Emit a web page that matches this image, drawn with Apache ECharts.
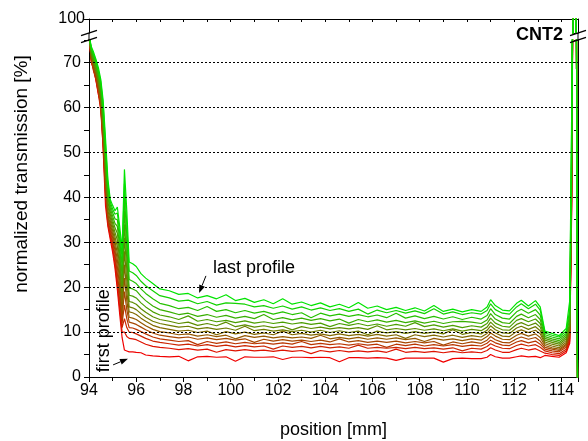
<!DOCTYPE html>
<html><head><meta charset="utf-8">
<script src="https://cdn.jsdelivr.net/npm/echarts@6/dist/echarts.min.js"></script>
<style>html,body{margin:0;padding:0;background:#fff}#c{width:588px;height:441px}</style>
</head><body><div id="c"></div>
<script>
// ---- data ----
const positionMm = [94.0, 94.1, 94.2, 94.3, 94.4, 94.5, 94.6, 94.7, 94.8, 94.9, 95.0, 95.1, 95.2, 95.3, 95.4, 95.5, 95.6, 95.7, 95.85, 96.0, 96.2, 96.4, 96.7,
  97.0, 97.4, 97.8, 98.2, 98.6, 99.0, 99.4, 99.8, 100.2, 100.6, 101.0, 101.4, 101.8, 102.2, 102.6, 103.0, 103.4, 103.8, 104.2, 104.6, 105.0, 105.4, 105.8, 106.2, 106.6, 107.0, 107.4, 107.8, 108.2, 108.6, 109.0, 109.4, 109.8, 110.2, 110.6,
  110.85, 111.0, 111.2, 111.5, 111.8, 112.1, 112.3, 112.6, 112.9, 113.1,
  113.3, 113.6, 113.9, 114.2, 114.35, 114.43, 114.5, 114.62, 114.68];

const profile01 = [76, 70.0, 68.5, 65.8, 62.8, 61.0, 50.5, 38, 33.5, 30.6, 27.8, 24.2, 19.5, 14, 8.8, 6.0, 5.8, 5.6, 5.6, 5.5, 5.4, 4.9, 4.7,
  4.6, 4.5, 4.6, 3.6, 4.5, 4.6, 4.4, 4.5, 3.5, 4.5, 4.4, 4.4, 4.5, 3.9, 4.4, 4.4, 4.3, 4.4, 4.3, 3.4, 4.3, 4.3, 4.2, 4.3, 4.2, 3.7, 4.2, 4.2, 4.2, 4.2, 3.3, 4.1, 4.2, 4.1, 4.1,
  4.4, 5.0, 4.5, 4.2, 4.2, 4.5, 4.7, 4.5, 4.6, 4.3,
  4.8, 4.6, 4.4, 5.4, 7.5, 36, 102, 102, -2];
const profile02 = [76, 70.2, 68.7, 66.0, 63.0, 59.2, 51.2, 40, 34, 31.3, 28.6, 25.2, 20.5, 15.5, 10, 10, 9, 8.6, 8.5, 8.3, 7.8, 7.3, 6.8,
  6.6, 6.4, 6.1, 6.3, 6.0, 6.2, 5.5, 6.1, 5.8, 6.1, 5.8, 6.0, 5.7, 6.0, 5.7, 5.9, 5.2, 5.9, 5.6, 5.9, 5.6, 5.8, 5.6, 5.8, 5.5, 6.2, 5.5, 5.7, 5.5, 5.7, 5.4, 5.7, 5.4, 5.6, 5.4,
  5.9, 6.5, 6.0, 5.5, 5.5, 6.1, 6.4, 6.0, 6.3, 5.8,
  5.3, 5.0, 4.8, 5.8, 8, 38, 102, 102, -2];
const profile03 = [76, 70.3, 67.9, 66.2, 63.3, 59.7, 52, 41, 34.5, 32.0, 29.4, 26.2, 21.5, 17, 11, 13, 11, 10.0, 9.9, 9.6, 9.1, 8.6, 8.0,
  7.7, 7.4, 7.1, 7.3, 6.9, 7.2, 6.8, 7.1, 6.7, 7.0, 6.7, 6.9, 6.2, 6.9, 6.6, 6.8, 6.5, 6.8, 6.5, 6.7, 6.4, 7.1, 6.4, 6.6, 6.4, 6.6, 6.3, 6.6, 6.3, 6.5, 6.2, 6.5, 5.8, 6.4, 6.2,
  6.8, 7.4, 6.9, 6.4, 6.3, 7.0, 7.3, 6.9, 7.2, 6.6,
  5.8, 5.4, 5.2, 6.2, 8.5, 39, 102, 102, -2];
const profile04 = [76, 70.5, 68.2, 66.6, 63.7, 60.2, 52.8, 42, 35, 32.7, 30.2, 27.2, 23, 18.5, 12, 16, 13, 11.0, 10.9, 10.6, 10.1, 9.6, 8.9,
  8.5, 8.2, 7.9, 8.1, 7.2, 7.9, 7.5, 7.8, 7.4, 7.7, 7.4, 7.6, 7.3, 7.6, 7.3, 7.9, 7.2, 7.5, 7.2, 7.4, 7.1, 7.4, 7.1, 7.3, 6.6, 7.3, 7.0, 7.3, 6.9, 7.2, 6.9, 7.2, 6.8, 7.1, 6.9,
  7.5, 8.2, 7.6, 7.1, 7.0, 7.8, 8.1, 7.6, 8.0, 7.3,
  6.2, 5.8, 5.6, 6.6, 9, 40, 102, 102, -2];
const profile05 = [76, 70.8, 68.6, 67.0, 64.2, 60.8, 53.6, 43, 35.5, 33.4, 31.0, 28.2, 24.5, 20, 13, 19, 15, 12.2, 12.0, 11.7, 11.1, 10.5, 9.8,
  9.3, 9.0, 8.7, 8.9, 8.4, 8.7, 8.3, 8.6, 8.2, 8.5, 7.7, 8.4, 8.0, 8.3, 8.0, 8.2, 7.9, 8.2, 7.8, 8.5, 7.8, 8.1, 7.7, 8.0, 7.7, 8.0, 7.6, 7.9, 7.6, 7.9, 7.1, 7.8, 7.4, 7.8, 7.5,
  8.2, 9.0, 8.3, 7.7, 7.6, 8.5, 8.9, 8.4, 8.8, 8.0,
  6.6, 6.2, 5.9, 7.0, 9.5, 41, 102, 102, -2];
const profile06 = [76, 71.1, 69.0, 67.4, 64.7, 61.4, 54.4, 44, 36, 34.1, 31.8, 29.2, 26, 21.5, 14.5, 22, 17, 13.3, 13.1, 12.8, 12.1, 11.4, 10.6,
  10.1, 9.8, 9.4, 9.6, 9.1, 9.4, 9.0, 9.3, 8.5, 9.2, 8.8, 9.1, 8.7, 9.0, 8.7, 8.9, 8.6, 9.3, 8.5, 8.8, 8.5, 8.8, 8.4, 8.7, 8.4, 8.7, 8.3, 8.6, 7.9, 8.6, 8.2, 8.5, 8.1, 8.5, 8.2,
  9.0, 9.8, 9.1, 8.4, 8.3, 9.3, 9.7, 9.1, 9.6, 8.8,
  7.0, 6.5, 6.2, 7.3, 10, 42, 102, 102, -2];
const profile07 = [76, 71.4, 69.4, 67.8, 65.2, 62.0, 55.2, 45, 37, 34.8, 32.6, 30.2, 27.5, 23, 16, 25, 19, 14.5, 14.3, 13.9, 13.1, 12.4, 11.5,
  11.0, 10.6, 10.2, 10.4, 9.9, 10.2, 9.4, 10.1, 9.6, 10.0, 9.5, 9.8, 9.4, 10.2, 9.4, 9.7, 9.3, 9.6, 9.2, 9.6, 9.2, 9.5, 9.1, 9.5, 9.1, 9.4, 8.6, 9.4, 9.0, 9.3, 8.9, 9.3, 8.8, 9.2, 8.9,
  9.7, 10.6, 9.8, 9.1, 9.0, 10.1, 10.5, 9.9, 10.4, 9.6,
  7.4, 6.9, 6.5, 7.7, 10.5, 43, 102, 102, -2];
const profile08 = [76, 71.7, 69.8, 68.2, 65.7, 62.6, 56.0, 46, 38, 35.5, 33.4, 31.2, 29, 24.5, 17.5, 28, 21.5, 15.6, 15.4, 15.0, 14.1, 13.3, 12.4,
  11.9, 11.5, 11.1, 11.3, 10.7, 11.0, 10.6, 10.9, 10.4, 11.3, 10.3, 10.6, 10.2, 10.5, 10.1, 10.4, 10.0, 10.4, 9.9, 10.3, 9.9, 10.2, 9.4, 10.2, 9.8, 10.1, 9.7, 10.1, 9.7, 10.0, 9.6, 10.5, 9.5, 9.9, 9.6,
  10.4, 11.4, 10.5, 9.8, 9.7, 10.9, 11.3, 10.6, 11.2, 10.3,
  7.8, 7.3, 6.9, 8.1, 11, 44, 102, 102, -2];
const profile09 = [76, 72.0, 70.2, 68.6, 66.2, 63.2, 56.8, 47, 39, 36.2, 34.2, 32.2, 30.5, 26, 19, 31, 24, 16.8, 16.6, 16.2, 15.2, 14.4, 13.4,
  12.8, 12.4, 11.9, 12.2, 11.5, 11.9, 11.4, 12.2, 11.2, 11.6, 11.1, 11.4, 11.0, 11.3, 10.5, 11.2, 10.8, 11.1, 10.7, 11.0, 10.7, 11.0, 10.6, 11.4, 10.5, 10.8, 10.5, 10.8, 10.4, 10.7, 10.3, 10.7, 10.2, 10.6, 10.3,
  11.1, 12.2, 11.2, 10.5, 10.4, 11.7, 12.1, 11.4, 12.0, 11.1,
  8.2, 7.7, 7.3, 8.5, 11.5, 46, 102, 102, -2];
const profile10 = [76, 72.3, 70.6, 69.0, 66.7, 63.8, 57.7, 48, 40, 36.9, 35.0, 33.2, 32.0, 27.5, 20.5, 34, 26.5, 18.2, 18.0, 17.6, 16.5, 15.6, 14.5,
  13.8, 13.4, 12.8, 13.6, 12.4, 12.8, 12.3, 12.6, 12.1, 12.5, 12.0, 12.3, 11.9, 12.2, 11.8, 12.1, 11.7, 12.0, 11.2, 11.9, 11.5, 11.9, 11.4, 11.8, 11.3, 11.7, 11.3, 12.1, 11.2, 11.6, 11.1, 11.5, 11.0, 11.4, 11.1,
  11.9, 13.1, 12.0, 11.3, 11.1, 12.6, 13.0, 12.3, 12.9, 11.9,
  8.6, 8.1, 7.7, 8.9, 12, 48, 102, 102, -2];
const profile11 = [76, 72.6, 71.0, 69.4, 67.2, 64.4, 58.6, 49, 41, 37.6, 35.8, 34.2, 33.5, 29, 22.5, 37, 29, 19.8, 19.6, 19.2, 18.0, 17.0, 15.8,
  15.0, 14.5, 13.9, 14.2, 13.5, 13.9, 13.3, 13.7, 13.1, 13.5, 13.0, 13.9, 12.8, 13.2, 12.7, 13.1, 12.6, 13.0, 12.5, 12.9, 12.0, 12.8, 12.3, 12.7, 12.2, 12.6, 12.1, 12.5, 12.0, 12.4, 11.9, 12.3, 12.4, 12.2, 11.9,
  12.7, 14.1, 12.9, 12.1, 11.9, 13.5, 14.0, 13.2, 13.9, 12.8,
  9.0, 8.5, 8.1, 9.3, 13, 50, 102, 102, -2];
const profile12 = [76, 72.9, 71.4, 69.8, 67.7, 65.0, 59.5, 50, 42, 38.3, 36.6, 35.2, 35.0, 30.5, 24.5, 40, 31.5, 21.7, 21.3, 20.8, 19.6, 18.6, 17.4,
  16.4, 15.9, 15.2, 15.5, 14.8, 15.7, 14.6, 15.0, 14.3, 14.8, 14.2, 14.6, 14.0, 14.5, 13.9, 14.3, 13.2, 14.2, 13.6, 14.0, 13.5, 13.9, 13.4, 13.8, 13.2, 14.2, 13.1, 13.6, 13.0, 13.5, 12.9, 13.4, 12.8, 13.3, 12.9,
  13.7, 15.2, 13.9, 13.1, 12.9, 14.5, 15.1, 14.2, 15.0, 13.8,
  9.4, 8.9, 8.5, 9.7, 14, 52, 102, 102, -2];
const profile13 = [76, 73.2, 71.8, 70.2, 68.2, 65.6, 60.5, 51.5, 43, 39, 37.4, 36.2, 36.5, 32, 26.5, 43, 34, 23.6, 23.2, 22.6, 21.3, 20.3, 19.2,
  18.1, 17.6, 16.9, 17.1, 16.3, 16.8, 16.0, 16.5, 16.4, 16.2, 15.6, 15.9, 15.3, 15.8, 15.1, 15.6, 14.9, 15.4, 14.8, 15.2, 14.6, 15.1, 14.0, 14.9, 14.3, 14.8, 14.2, 14.7, 14.1, 15.2, 14.0, 14.5, 13.9, 14.3, 14.0,
  14.8, 16.3, 15.0, 14.2, 14.0, 15.6, 16.3, 15.2, 16.2, 14.9,
  9.8, 9.3, 8.9, 10.2, 15, 55, 102, 102, -2];
const profile14 = [76, 73.5, 72.2, 70.6, 68.8, 66.2, 61.5, 53, 44, 39.5, 38.2, 37.0, 37.8, 33.5, 28.5, 46.2, 37, 25.6, 25.2, 24.6, 23.0, 22.0, 20.8,
  19.6, 19.2, 18.4, 18.6, 17.6, 18.1, 17.4, 18.3, 17.0, 17.5, 16.6, 17.2, 16.3, 17.4, 16.2, 16.7, 15.9, 16.5, 15.6, 16.2, 15.4, 16.6, 15.3, 15.8, 15.0, 15.5, 14.8, 15.4, 14.7, 15.9, 14.6, 15.1, 14.5, 15.0, 14.6,
  15.6, 17.2, 15.9, 14.9, 14.7, 16.4, 17.1, 15.8, 17.0, 15.6,
  10.2, 9.7, 9.2, 10.8, 17, 58, 102, 102, -2];

const profiles = [profile01, profile02, profile03, profile04, profile05, profile06, profile07,
  profile08, profile09, profile10, profile11, profile12, profile13, profile14];

const gridValues = [10, 20, 30, 40, 50, 60, 70];
const lowerRange = [0, 75];
const upperRange = [95, 100];
const xRange = [94, 114.7];

// ---- chart ----
const FONT = '"Liberation Sans", Arial, Helvetica, sans-serif';
const chart = echarts.init(document.getElementById('c'), null, {renderer: 'canvas'});

function profileColor(i, n) {
  const t = i / (n - 1);
  return 'rgb(' + Math.round(240 * (1 - t)) + ',' + Math.round(228 * t) + ',0)';
}

const series = [{
  type: 'line', xAxisIndex: 0, yAxisIndex: 0, data: [], silent: true, animation: false,
  markLine: {
    silent: true, symbol: 'none', animation: false,
    label: {show: false},
    lineStyle: {type: [2, 2], color: '#000', width: 1},
    data: gridValues.map(v => ({yAxis: v}))
  }
}];
profiles.forEach((p, i) => {
  const data = positionMm.map((x, j) => [x, p[j]]);
  const c = profileColor(i, profiles.length);
  const common = {type: 'line', data, symbol: 'none', showSymbol: false, clip: true, silent: true,
    animation: false, lineStyle: {color: c, width: 1.2}, itemStyle: {color: c}};
  series.push(Object.assign({xAxisIndex: 0, yAxisIndex: 0}, common));
  series.push(Object.assign({xAxisIndex: 1, yAxisIndex: 2}, common));
});

const axisLine = {show: true, onZero: false, lineStyle: {color: '#000', width: 1}};
const tickStyle = {color: '#000', width: 1};

const option = {
  backgroundColor: '#fff',
  animation: false,
  grid: [
    {left: 89, right: 10, top: 40, bottom: 64, containLabel: false, outerBoundsMode: 'none'},
    {left: 89, right: 10, top: 19, height: 14, containLabel: false, outerBoundsMode: 'none'}
  ],
  xAxis: [
    {gridIndex: 0, type: 'value', position: 'bottom', min: xRange[0], max: xRange[1], interval: 2,
      axisLine, splitLine: {show: false},
      axisTick: {show: true, inside: false, length: 5, lineStyle: tickStyle},
      minorTick: {show: true, splitNumber: 2, length: 4, lineStyle: tickStyle},
      axisLabel: {show: true, margin: 6, color: '#000', fontSize: 16, fontFamily: FONT,
        showMaxLabel: false,
        formatter: v => (Math.abs(v - Math.round(v)) < 1e-6 ? String(Math.round(v)) : '')},
      name: 'position [mm]', nameLocation: 'middle', nameGap: 44,
      nameTextStyle: {color: '#000', fontSize: 18, fontFamily: FONT}},
    {gridIndex: 1, type: 'value', position: 'top', min: xRange[0], max: xRange[1], interval: 1,
      axisLine, splitLine: {show: false},
      axisTick: {show: true, inside: true, length: 3, lineStyle: tickStyle},
      axisLabel: {show: false}}
  ],
  yAxis: [
    {gridIndex: 0, type: 'value', position: 'left', min: lowerRange[0], max: lowerRange[1], interval: 5,
      axisLine, splitLine: {show: false},
      axisTick: {show: true, inside: false, length: 5, lineStyle: tickStyle},
      axisLabel: {show: true, margin: 8, color: '#000', fontSize: 16, fontFamily: FONT,
        formatter: v => (v % 10 === 0 ? String(v) : '')}},
    {gridIndex: 0, type: 'value', position: 'right', min: lowerRange[0], max: lowerRange[1], interval: 5,
      axisLine, splitLine: {show: false},
      axisTick: {show: true, inside: true, length: 4, lineStyle: tickStyle},
      axisLabel: {show: false}},
    {gridIndex: 1, type: 'value', position: 'left', min: upperRange[0], max: upperRange[1], interval: 5,
      axisLine, splitLine: {show: false},
      axisTick: {show: true, inside: false, length: 5, lineStyle: tickStyle},
      axisLabel: {show: true, margin: 4, color: '#000', fontSize: 16, fontFamily: FONT}},
    {gridIndex: 1, type: 'value', position: 'right', min: upperRange[0], max: upperRange[1], interval: 5,
      axisLine, splitLine: {show: false},
      axisTick: {show: true, inside: true, length: 4, lineStyle: tickStyle},
      axisLabel: {show: false}}
  ],
  series
};
chart.setOption(option);

// ---- annotations ----
function px(grid, pt) { return chart.convertToPixel({gridIndex: grid}, pt); }
function arrow(from, to) {
  const [x1, y1] = from, [x2, y2] = to;
  const dx = x2 - x1, dy = y2 - y1, L = Math.hypot(dx, dy);
  const ux = dx / L, uy = dy / L, hl = 8, hw = 3;
  const bx = x2 - ux * hl, by = y2 - uy * hl;
  return [
    {type: 'line', z: 100, shape: {x1, y1, x2: bx, y2: by}, style: {stroke: '#000', lineWidth: 1}},
    {type: 'polygon', z: 100, shape: {points: [[x2, y2], [bx - uy * hw, by + ux * hw], [bx + uy * hw, by - ux * hw]]},
      style: {fill: '#000'}}
  ];
}
const L95 = px(1, [xRange[0], upperRange[0]]), L75 = px(0, [xRange[0], lowerRange[1]]);
const R95 = px(1, [xRange[1], upperRange[0]]), R75 = px(0, [xRange[1], lowerRange[1]]);
const graphics = [];
[[L95, L75], [R95, R75]].forEach(([a, b]) => {
  graphics.push({type: 'line', z: 100, shape: {x1: a[0], y1: a[1], x2: b[0], y2: b[1]}, style: {stroke: '#000', lineWidth: 1}});
});
[L95, L75, R95, R75].forEach(p => {
  graphics.push({type: 'line', z: 101, shape: {x1: p[0] - 8, y1: p[1] + 2.7, x2: p[0] + 8, y2: p[1] - 2.7},
    style: {stroke: '#000', lineWidth: 1.3}});
});
arrow(px(0, [98.95, 22.5]), px(0, [98.66, 18.7])).forEach(g => graphics.push(g));
arrow(px(0, [95.02, 2.7]), px(0, [95.65, 4.07])).forEach(g => graphics.push(g));
const lastPos = px(0, [99.25, 24.3]);
graphics.push({type: 'text', z: 100, x: lastPos[0], y: lastPos[1],
  style: {text: 'last profile', font: '18px ' + FONT, fill: '#000', textAlign: 'left', align: 'left',
    textVerticalAlign: 'middle', verticalAlign: 'middle'}});
const firstPos = px(0, [94.64, 10.3]);
graphics.push({type: 'text', z: 100, x: firstPos[0], y: firstPos[1], rotation: Math.PI / 2,
  style: {text: 'first profile', font: '18px ' + FONT, fill: '#000', textAlign: 'center', align: 'center',
    textVerticalAlign: 'middle', verticalAlign: 'middle'}});
graphics.push({type: 'text', z: 100, x: 516, y: 35,
  style: {text: 'CNT2', font: 'bold 18px ' + FONT, fill: '#000', textAlign: 'left', align: 'left',
    textVerticalAlign: 'middle', verticalAlign: 'middle'}});
graphics.push({type: 'text', z: 100, x: 22, y: 174, rotation: Math.PI / 2,
  style: {text: 'normalized transmission [%]', font: '19px ' + FONT, fill: '#000', textAlign: 'center', align: 'center',
    textVerticalAlign: 'middle', verticalAlign: 'middle'}});
chart.setOption({graphic: graphics});
</script>
</body></html>
